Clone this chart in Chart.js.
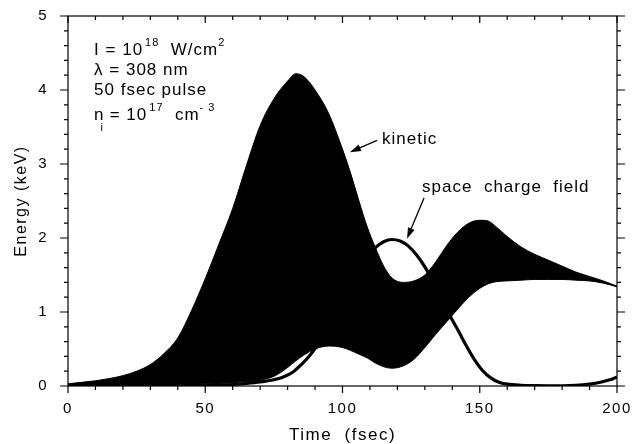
<!DOCTYPE html>
<html><head><meta charset="utf-8">
<script src="https://cdn.jsdelivr.net/npm/chart.js@4/dist/chart.umd.min.js"></script>
<style>html,body{margin:0;padding:0;background:#fff}#wrap{width:634px;height:444px}</style>
</head><body><div id="wrap"><canvas id="c" width="634" height="444"></canvas></div>
<script>
// ---- data ----
const kineticTimes = [0,5,10,15,20,25,30,35,40,45,50,55,60,65,70,75,80,83,86,90,95,100,103,106,109,112,115,118,122,126,130,134,138,142,146,150,153,156,160,165,170,175,180,185,190,195,200];
const kineticUpper = [0.03,0.05,0.07,0.10,0.14,0.20,0.29,0.44,0.65,1.02,1.45,1.92,2.40,2.98,3.52,3.88,4.12,4.22,4.18,4.00,3.68,3.20,2.87,2.50,2.15,1.87,1.62,1.46,1.40,1.42,1.50,1.68,1.90,2.08,2.20,2.24,2.23,2.15,2.02,1.88,1.78,1.70,1.62,1.54,1.48,1.42,1.35];
const kineticLower = [0.01,0.01,0.01,0.01,0.01,0.01,0.015,0.02,0.02,0.025,0.03,0.035,0.045,0.06,0.08,0.13,0.25,0.34,0.42,0.50,0.54,0.52,0.48,0.43,0.38,0.31,0.26,0.24,0.27,0.36,0.52,0.70,0.87,1.04,1.20,1.32,1.38,1.41,1.42,1.43,1.44,1.44,1.44,1.43,1.42,1.39,1.34];
const fieldTimes = [0,20,40,50,55,60,65,70,75,78,82,85,88,91,94,97,100,104,108,112,115,118,121,124,127,130,133,136,139,142,145,148,151,154,157,160,165,170,175,180,185,190,194,197,200];
const fieldEnergy = [0.005,0.005,0.005,0.008,0.012,0.02,0.035,0.055,0.085,0.115,0.19,0.29,0.41,0.56,0.75,0.96,1.18,1.45,1.70,1.87,1.95,1.98,1.96,1.89,1.77,1.61,1.41,1.20,0.96,0.76,0.55,0.36,0.21,0.11,0.05,0.025,0.01,0.005,0.003,0.003,0.008,0.025,0.05,0.08,0.12];
const xTickValues = [0,50,100,150,200];
const yTickValues = [0,1,2,3,4,5];
const xLabel = 'Time  (fsec)';
const yLabel = 'Energy (keV)';
const kineticLabel = 'kinetic';
const fieldLabel = 'space  charge  field';

const pts = (xs, ys) => xs.map((x, i) => ({x, y: ys[i]}));
const FONT = "'Liberation Sans', Arial, sans-serif";

const frameTicks = {
  id: 'frameTicks',
  beforeDraw(chart) { chart.ctx.letterSpacing = '1.5px'; },
  afterDraw(chart) {
    const {ctx, chartArea: a, scales: {x, y}} = chart;
    ctx.save();
    ctx.strokeStyle = '#000'; ctx.lineWidth = 1.2;
    ctx.strokeRect(a.left, a.top, a.right - a.left, a.bottom - a.top);
    ctx.beginPath();
    for (let v = 0; v <= 200; v += 10) {
      const px = x.getPixelForValue(v), L = v % 50 === 0 ? 7 : 4;
      ctx.moveTo(px, a.bottom); ctx.lineTo(px, a.bottom + L);
      ctx.moveTo(px, a.top); ctx.lineTo(px, a.top + L);
    }
    for (let k = 0; k <= 25; k++) {
      const v = k / 5, py = y.getPixelForValue(v), L = k % 5 === 0 ? 8 : 4;
      ctx.moveTo(a.left, py); ctx.lineTo(a.left - L, py);
      ctx.moveTo(a.right, py); ctx.lineTo(a.right + L, py);
    }
    ctx.stroke();

    // annotations
    ctx.fillStyle = '#000';
    ctx.letterSpacing = '1px';
    const run = (parts, t0, e0) => {
      let cx = x.getPixelForValue(t0); const by = y.getPixelForValue(e0);
      for (const p of parts) {
        const size = p.s ? 11 : 17;
        ctx.font = size + 'px ' + FONT;
        const dy = p.s === 'sup' ? -9 : p.s === 'sub' ? 11 : 0;
        ctx.fillText(p.t, cx + (p.dx || 0), by + dy);
        cx += ctx.measureText(p.t).width + (p.dx || 0);
      }
    };
    ctx.textBaseline = 'alphabetic'; ctx.textAlign = 'left';
    run([{t:'I = 10'},{t:'18', s:'sup', dx:2},{t:'  W/cm'},{t:'2', s:'sup'}], 9.5, 4.47);
    run([{t:'\u03bb = 308 nm'}], 9.5, 4.20);
    run([{t:'50 fsec pulse'}], 9.5, 3.93);
    run([{t:'n'},{t:'i', s:'sub', dx:-4},{t:' = 10'},{t:'17', s:'sup', dx:2},{t:'  cm'},{t:'- 3', s:'sup'}], 9.5, 3.59);
    ctx.font = '17px ' + FONT;
    ctx.fillText(kineticLabel, x.getPixelForValue(114.4), y.getPixelForValue(3.27));
    ctx.fillText(fieldLabel, x.getPixelForValue(129), y.getPixelForValue(2.62));
    const arrow = (t1, e1, t2, e2) => {
      const x1 = x.getPixelForValue(t1), y1 = y.getPixelForValue(e1);
      const x2 = x.getPixelForValue(t2), y2 = y.getPixelForValue(e2);
      const ang = Math.atan2(y2 - y1, x2 - x1), L = 11, W = 3.5;
      ctx.lineWidth = 1.3;
      ctx.beginPath(); ctx.moveTo(x1, y1);
      ctx.lineTo(x2 - Math.cos(ang) * L * 0.8, y2 - Math.sin(ang) * L * 0.8); ctx.stroke();
      ctx.beginPath(); ctx.moveTo(x2, y2);
      ctx.lineTo(x2 - Math.cos(ang) * L - Math.sin(ang) * W, y2 - Math.sin(ang) * L + Math.cos(ang) * W);
      ctx.lineTo(x2 - Math.cos(ang) * L + Math.sin(ang) * W, y2 - Math.sin(ang) * L - Math.cos(ang) * W);
      ctx.closePath(); ctx.fill();
    };
    arrow(112.6, 3.32, 102.7, 3.16);
    arrow(129.7, 2.54, 123.5, 1.99);
    ctx.restore();
  }
};

new Chart(document.getElementById('c'), {
  type: 'line',
  data: {
    datasets: [
      {label: 'space charge field', data: pts(fieldTimes, fieldEnergy), borderColor: '#000', borderWidth: 3.2,
       pointRadius: 0, fill: false, cubicInterpolationMode: 'monotone'},
      {label: 'kinetic (lower)', data: pts(kineticTimes, kineticLower), borderColor: '#000', borderWidth: 1,
       pointRadius: 0, fill: false, cubicInterpolationMode: 'monotone'},
      {label: 'kinetic (upper)', data: pts(kineticTimes, kineticUpper), borderColor: '#000', borderWidth: 1,
       backgroundColor: '#000', pointRadius: 0, fill: 1, cubicInterpolationMode: 'monotone'}
    ]
  },
  options: {
    responsive: false, animation: false, devicePixelRatio: 1,
    layout: {padding: {top: 16, right: 17, left: 0, bottom: 0}},
    plugins: {legend: {display: false}, tooltip: {enabled: false}},
    scales: {
      x: {type: 'linear', min: 0, max: 200,
          afterFit: s => { s.height = 58; s.paddingLeft = 0; s.paddingRight = 0; },
          afterBuildTicks: s => { s.ticks = xTickValues.map(v => ({value: v})); },
          grid: {display: false, drawTicks: false}, border: {display: false},
          ticks: {color: '#000', font: {family: FONT, size: 15}, padding: 14, maxRotation: 0},
          title: {display: true, text: xLabel, color: '#000', font: {family: FONT, size: 17}, padding: {top: 0, bottom: -2}}},
      y: {type: 'linear', min: 0, max: 5,
          afterFit: s => { s.width = 68; s.paddingTop = 0; s.paddingBottom = 0; },
          afterBuildTicks: s => { s.ticks = yTickValues.map(v => ({value: v})); },
          grid: {display: false, drawTicks: false}, border: {display: false},
          ticks: {color: '#000', font: {family: FONT, size: 15}, padding: 20},
          title: {display: true, text: yLabel, color: '#000', font: {family: FONT, size: 16}, padding: {top: 12, bottom: 0}}}
    }
  },
  plugins: [frameTicks]
});
</script></body></html>
